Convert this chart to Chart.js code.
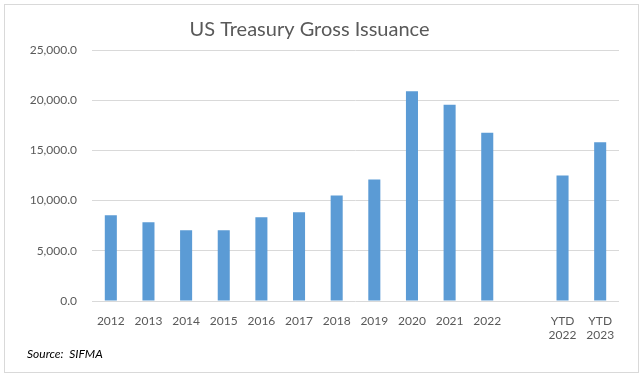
<!DOCTYPE html>
<html>
<head>
<meta charset="utf-8">
<script src="https://cdn.jsdelivr.net/npm/chart.js@4"></script>
<style>
  body { margin: 0; background: #fff; }
  #wrap { position: relative; width: 643px; height: 380px; }
  #frame { position: absolute; left: 4px; top: 4px; width: 633px; height: 367px; border: 1px solid #d9d9d9; }
  #source { position: absolute; left: 27px; top: 346px; font: italic 12px Lato, sans-serif; color: #000; }
  canvas { position: absolute; left: 0; top: 0; }
</style>
</head>
<body>
<div id="wrap">
  <div id="frame"></div>
  <canvas id="graph-issuance" width="643" height="380"></canvas>
  <div id="source">Source:&nbsp; SIFMA</div>
</div>
<script>
// categories, blank slot between 2022 and the YTD bars
const years = ['2012', '2013', '2014', '2015', '2016', '2017', '2018', '2019', '2020', '2021', '2022', '', ['YTD', '2022'], ['YTD', '2023']];
const issuance = [8530, 7840, 7040, 7040, 8330, 8830, 10500, 12100, 20900, 19550, 16750, null, 12500, 15800];
const yTicks = [0, 5000, 10000, 15000, 20000, 25000];

Chart.defaults.font.family = 'Lato, sans-serif';
Chart.defaults.color = '#595959';

var ctxIssuance = document.getElementById('graph-issuance').getContext('2d');
var issuanceChart = new Chart(ctxIssuance, {
    type: 'bar',
    data: {
        labels: years,
        datasets: [{
            label: 'Gross Issuance',
            backgroundColor: '#5b9bd5',
            data: issuance,
            categoryPercentage: 1,
            barPercentage: 0.32
        }]
    },
    options: {
        responsive: false,
        animation: false,
        layout: { padding: { top: 0, right: 24, bottom: 0, left: 0 } },
        plugins: {
            legend: { display: false },
            tooltip: { enabled: false },
            title: {
                display: true,
                text: 'US Treasury Gross Issuance',
                color: '#595959',
                font: { size: 20, weight: 'normal' },
                padding: { top: 18, bottom: 8 }
            }
        },
        scales: {
            x: {
                grid: { display: false },
                border: { display: false },
                ticks: { font: { size: 12 }, padding: 5, maxRotation: 0, autoSkip: false },
                afterFit: function (axis) { axis.height = 79; }
            },
            y: {
                min: 0,
                max: 25000,
                afterBuildTicks: function (axis) { axis.ticks = yTicks.map(v => ({ value: v })); },
                grid: { color: '#d9d9d9', drawTicks: false },
                border: { display: false },
                ticks: {
                    font: { size: 12 },
                    padding: 15,
                    callback: v => v.toLocaleString('en-US', { minimumFractionDigits: 1, maximumFractionDigits: 1 })
                },
                afterFit: function (axis) { axis.width = 92; }
            }
        }
    }
});
</script>
</body>
</html>
